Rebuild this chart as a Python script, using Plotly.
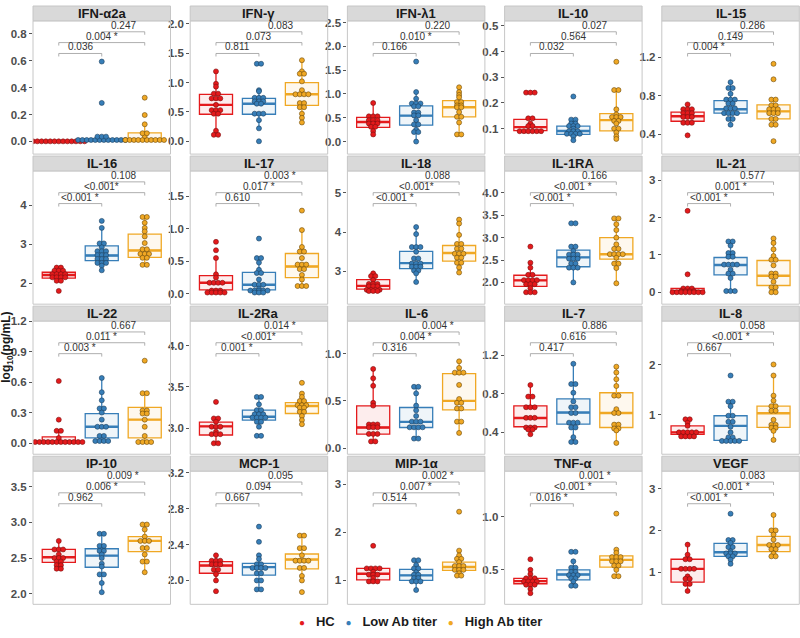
import plotly.graph_objs as go
from collections import Counter

cytokines = ['IFN-α2a', 'IFN-γ', 'IFN-λ1', 'IL-10', 'IL-15',
             'IL-16', 'IL-17', 'IL-18', 'IL-1RA', 'IL-21',
             'IL-22', 'IL-2Ra', 'IL-6', 'IL-7', 'IL-8',
             'IP-10', 'MCP-1', 'MIP-1α', 'TNF-α', 'VEGF']
groups = ['HC', 'Low Ab titer', 'High Ab titer']

# p-values: HC vs Low, HC vs High, Low vs High
pValues = [['0.036', '0.004 *', '0.247'], ['0.811', '0.073', '0.083'], ['0.166', '0.010 *', '0.220'],
           ['0.032', '0.564', '0.027'], ['0.004 *', '0.149', '0.286'],
           ['&lt;0.001 *', '&lt;0.001*', '0.108'], ['0.610', '0.017 *', '0.003 *'], ['&lt;0.001 *', '&lt;0.001*', '0.088'],
           ['&lt;0.001 *', '&lt;0.001 *', '0.166'], ['&lt;0.001 *', '0.001 *', '0.577'],
           ['0.003 *', '0.011 *', '0.667'], ['0.001 *', '&lt;0.001*', '0.014 *'], ['0.316', '0.004 *', '0.004 *'],
           ['0.417', '0.616', '0.886'], ['0.667', '&lt;0.001 *', '0.058'],
           ['0.962', '0.006 *', '0.009 *'], ['0.667', '0.094', '0.095'], ['0.514', '0.007 *', '0.002 *'],
           ['0.016 *', '&lt;0.001 *', '0.001 *'], ['&lt;0.001 *', '&lt;0.001 *', '0.083']]

yRanges = [[-0.095, 0.897], [-0.218, 2.05], [-0.263, 2.535], [0.001, 0.519], [0.196, 1.575],
           [1.459, 4.884], [-0.159, 1.89], [2.165, 5.56], [1.514, 4.49], [-0.32, 3.25],
           [-0.11, 1.2], [2.688, 4.296], [-0.066, 1.348], [0.173, 1.553], [0.215, 2.864],
           [1.85, 3.72], [1.734, 3.219], [0.503, 3.275], [0.175, 1.431], [0.231, 3.42]]

yTicks = [['0.0', '0.2', '0.4', '0.6', '0.8'], ['0.0', '0.5', '1.0', '1.5', '2.0'],
          ['0.0', '0.5', '1.0', '1.5', '2.0', '2.5'], ['0.1', '0.2', '0.3', '0.4', '0.5'], ['0.4', '0.8', '1.2'],
          ['2', '3', '4'], ['0.0', '0.5', '1.0', '1.5'], ['3', '4', '5'],
          ['2.0', '2.5', '3.0', '3.5', '4.0', '4.5'], ['0', '1', '2', '3'],
          ['0.0', '0.3', '0.6', '0.9', '1.2'], ['3.0', '3.5', '4.0'], ['0.0', '0.5', '1.0'], ['0.4', '0.8', '1.2'],
          ['1', '2'], ['2.0', '2.5', '3.0', '3.5'], ['2.0', '2.4', '2.8', '3.2'], ['1', '2', '3'],
          ['0.5', '1.0'], ['1', '2', '3']]

# box quartiles (q1, median, q3) per cytokine
hcQuart = [(0, 0, 0), (0.46, 0.62, 0.80), (0.30, 0.41, 0.51), (0.092, 0.106, 0.136), (0.536, 0.587, 0.631),
           (2.13, 2.21, 2.28), (0.062, 0.17, 0.28), (2.55, 2.63, 2.79), (1.91, 2.045, 2.16), (0.0, 0.03, 0.10),
           (0.0, 0.015, 0.06), (2.92, 3.024, 3.076), (0.148, 0.218, 0.447), (0.458, 0.548, 0.675), (0.61, 0.65, 0.78),
           (2.44, 2.51, 2.62), (2.08, 2.166, 2.21), (1.01, 1.14, 1.25), (0.369, 0.394, 0.42), (0.76, 1.08, 1.31)]
lowQuart = [(0.005, 0.01, 0.015), (0.46, 0.64, 0.73), (0.345, 0.545, 0.75), (0.078, 0.091, 0.11), (0.62, 0.66, 0.75),
            (2.58, 2.71, 2.96), (0.06, 0.14, 0.33), (3.07, 3.21, 3.51), (2.35, 2.56, 2.72), (0.465, 0.73, 0.93),
            (0.05, 0.16, 0.29), (3.10, 3.14, 3.22), (0.218, 0.278, 0.43), (0.485, 0.605, 0.746), (0.49, 0.78, 0.98),
            (2.37, 2.534, 2.63), (2.06, 2.148, 2.19), (1.0, 1.105, 1.23), (0.406, 0.456, 0.50), (1.38, 1.476, 1.69)]
highQuart = [(0.008, 0.012, 0.063), (0.61, 0.80, 1.0), (0.52, 0.72, 0.86), (0.091, 0.133, 0.158), (0.56, 0.638, 0.706),
             (2.66, 2.84, 3.26), (0.25, 0.42, 0.62), (3.26, 3.47, 3.66), (2.52, 2.63, 3.0), (0.18, 0.44, 0.85),
             (0.05, 0.23, 0.35), (3.18, 3.27, 3.31), (0.405, 0.50, 0.79), (0.45, 0.60, 0.81), (0.75, 1.03, 1.17),
             (2.59, 2.74, 2.80), (2.13, 2.233, 2.295), (1.21, 1.28, 1.38), (0.525, 0.594, 0.631), (1.49, 1.65, 1.857)]

hcPoints = [
    [0, 0, 0, 0, 0, 0, 0, 0, 0, 0, 0, 0, 0],
    [1.19, 0.98, 0.93, 0.81, 0.81, 0.73, 0.73, 0.73, 0.62, 0.53, 0.53, 0.53, 0.47, 0.47, 0.18, 0.11, 0.11],
    [0.81, 0.53, 0.53, 0.53, 0.45, 0.45, 0.45, 0.38, 0.38, 0.38, 0.31, 0.31, 0.22, 0.15],
    [0.24, 0.24, 0.24, 0.14, 0.14, 0.12, 0.11, 0.11, 0.09, 0.09, 0.09, 0.09, 0.09, 0.09],
    [0.71, 0.66, 0.66, 0.66, 0.62, 0.62, 0.62, 0.58, 0.58, 0.58, 0.52, 0.52, 0.52, 0.39],
    [2.40, 2.40, 2.32, 2.32, 2.32, 2.23, 2.23, 2.23, 2.23, 2.15, 2.15, 2.15, 2.15, 2.06, 2.06, 1.80],
    [0.80, 0.67, 0.55, 0.30, 0.25, 0.17, 0.17, 0.17, 0.17, 0.05, 0.05, 0.05, 0.02, 0.02, 0.02, 0.02, 0.02],
    [2.95, 2.88, 2.88, 2.78, 2.68, 2.68, 2.68, 2.62, 2.62, 2.62, 2.53, 2.53, 2.53, 2.53, 2.50, 2.50, 2.50],
    [2.80, 2.44, 2.33, 2.17, 2.17, 2.05, 2.05, 2.05, 2.05, 1.96, 1.96, 1.96, 1.87, 1.78, 1.78, 1.78],
    [2.18, 0.48, 0.10, 0.10, 0.10, 0.03, 0.03, 0.03, 0.03, 0, 0, 0, 0, 0, 0, 0, 0],
    [0.61, 0.23, 0.12, 0.12, 0.05, 0.01, 0.01, 0.01, 0.01, 0.01, 0.01, 0.01, 0.01, 0.01, 0.01, 0.01, 0.01],
    [3.32, 3.12, 3.12, 3.08, 3.02, 3.02, 3.02, 2.96, 2.93, 2.93, 2.93, 2.82, 2.82],
    [0.84, 0.74, 0.66, 0.48, 0.45, 0.25, 0.25, 0.25, 0.22, 0.22, 0.22, 0.15, 0.15, 0.15, 0.07, 0.07],
    [0.89, 0.77, 0.77, 0.66, 0.66, 0.66, 0.55, 0.55, 0.55, 0.45, 0.45, 0.45, 0.43, 0.43, 0.38],
    [0.91, 0.91, 0.84, 0.78, 0.65, 0.65, 0.65, 0.65, 0.65, 0.57, 0.57, 0.57, 0.57],
    [2.74, 2.62, 2.62, 2.62, 2.55, 2.50, 2.50, 2.50, 2.45, 2.45, 2.40, 2.40, 2.35, 2.35],
    [2.28, 2.22, 2.22, 2.22, 2.18, 2.18, 2.18, 2.12, 2.12, 2.07, 2.00, 1.88],
    [1.72, 1.25, 1.25, 1.25, 1.25, 1.18, 1.12, 1.12, 1.12, 1.05, 0.98, 0.98, 0.98],
    [0.60, 0.50, 0.46, 0.42, 0.42, 0.42, 0.39, 0.39, 0.39, 0.39, 0.36, 0.36, 0.36, 0.32, 0.28],
    [1.66, 1.42, 1.31, 1.31, 1.08, 1.08, 1.08, 1.08, 0.90, 0.84, 0.84, 0.72, 0.72, 0.55]]

lowPoints = [
    [0.01, 0.01, 0.01, 0.01, 0.01, 0.01, 0.01, 0.01, 0.01, 0.01, 0.01, 0.01, 0.035, 0.035, 0.035, 0.286, 0.594],
    [1.32, 1.32, 0.87, 0.85, 0.74, 0.74, 0.74, 0.68, 0.68, 0.68, 0.64, 0.64, 0.47, 0.47, 0.47, 0.36, 0.22, 0.0],
    [1.68, 1.04, 0.90, 0.80, 0.80, 0.80, 0.74, 0.74, 0.61, 0.61, 0.55, 0.55, 0.45, 0.36, 0.36, 0.25, 0.20, 0.20, 0.0],
    [0.225, 0.135, 0.135, 0.12, 0.12, 0.11, 0.11, 0.11, 0.10, 0.09, 0.09, 0.09, 0.08, 0.08, 0.08, 0.08, 0.07, 0.055],
    [0.94, 0.88, 0.88, 0.82, 0.76, 0.76, 0.76, 0.72, 0.72, 0.67, 0.67, 0.67, 0.62, 0.62, 0.62, 0.62, 0.56, 0.56, 0.50],
    [3.60, 3.42, 3.02, 3.02, 2.92, 2.82, 2.82, 2.82, 2.72, 2.72, 2.72, 2.62, 2.62, 2.62, 2.52, 2.52, 2.52, 2.45, 2.33],
    [0.85, 0.55, 0.55, 0.48, 0.37, 0.32, 0.32, 0.22, 0.14, 0.14, 0.14, 0.08, 0.05, 0.05, 0.05, 0.05, 0.05, 0.02, 0.02, 0.02],
    [4.13, 3.95, 3.62, 3.62, 3.62, 3.50, 3.33, 3.33, 3.20, 3.20, 3.20, 3.12, 3.12, 3.12, 3.02, 3.02, 2.95, 2.73],
    [3.32, 3.32, 2.80, 2.80, 2.70, 2.62, 2.62, 2.62, 2.53, 2.53, 2.53, 2.42, 2.42, 2.33, 2.33, 2.33, 2.0],
    [1.36, 1.36, 1.25, 1.05, 1.05, 0.95, 0.95, 0.74, 0.74, 0.74, 0.74, 0.60, 0.50, 0.50, 0.38, 0.03, 0.03, 0.03],
    [0.64, 0.50, 0.42, 0.34, 0.34, 0.30, 0.23, 0.16, 0.16, 0.16, 0.07, 0.07, 0.02, 0.02, 0.02, 0.02],
    [3.38, 3.38, 3.29, 3.22, 3.22, 3.17, 3.17, 3.17, 3.13, 3.13, 3.13, 3.13, 3.08, 3.08, 3.02, 2.91, 2.91],
    [0.65, 0.65, 0.58, 0.45, 0.40, 0.34, 0.28, 0.28, 0.28, 0.22, 0.22, 0.22, 0.22, 0.10, 0.10],
    [1.11, 0.90, 0.90, 0.81, 0.72, 0.66, 0.66, 0.60, 0.60, 0.50, 0.50, 0.50, 0.45, 0.45, 0.35, 0.30, 0.30],
    [1.78, 1.26, 1.26, 1.17, 0.98, 0.98, 0.86, 0.86, 0.76, 0.65, 0.55, 0.55, 0.48, 0.48, 0.48, 0.48, 0.48],
    [2.84, 2.84, 2.67, 2.67, 2.60, 2.60, 2.55, 2.50, 2.42, 2.38, 2.27, 2.27, 2.15, 2.02],
    [2.60, 2.43, 2.28, 2.24, 2.18, 2.18, 2.14, 2.14, 2.14, 2.14, 2.08, 2.08, 2.00, 2.00, 1.90, 1.90],
    [1.42, 1.42, 1.32, 1.25, 1.25, 1.17, 1.12, 1.12, 1.05, 1.05, 0.98, 0.98, 0.98, 0.80],
    [0.67, 0.67, 0.58, 0.52, 0.52, 0.48, 0.48, 0.45, 0.45, 0.45, 0.42, 0.42, 0.39, 0.35, 0.35],
    [2.40, 1.77, 1.77, 1.70, 1.60, 1.60, 1.50, 1.45, 1.45, 1.45, 1.38, 1.38, 1.30, 1.20]]

highPoints = [
    [0.01, 0.01, 0.01, 0.01, 0.01, 0.01, 0.01, 0.01, 0.01, 0.01, 0.04, 0.06, 0.06, 0.127, 0.196, 0.325],
    [1.38, 1.19, 1.15, 1.15, 1.02, 0.87, 0.80, 0.80, 0.80, 0.80, 0.65, 0.65, 0.58, 0.58, 0.47, 0.40, 0.32],
    [1.14, 1.04, 0.98, 0.93, 0.83, 0.83, 0.76, 0.76, 0.72, 0.72, 0.62, 0.52, 0.52, 0.40, 0.15, 0.15],
    [0.36, 0.25, 0.25, 0.175, 0.155, 0.145, 0.145, 0.145, 0.13, 0.13, 0.12, 0.10, 0.10, 0.085, 0.07, 0.06],
    [1.13, 0.97, 0.76, 0.76, 0.70, 0.70, 0.66, 0.66, 0.66, 0.62, 0.62, 0.62, 0.56, 0.56, 0.50, 0.50, 0.33],
    [3.70, 3.70, 3.55, 3.42, 3.33, 3.20, 3.03, 2.87, 2.87, 2.75, 2.75, 2.75, 2.65, 2.65, 2.47, 2.47],
    [1.28, 0.98, 0.72, 0.65, 0.65, 0.55, 0.45, 0.45, 0.45, 0.38, 0.38, 0.29, 0.22, 0.12, 0.12, 0.12],
    [4.32, 4.22, 3.93, 3.70, 3.70, 3.58, 3.58, 3.45, 3.45, 3.45, 3.35, 3.35, 3.22, 3.22, 3.10, 2.97],
    [3.43, 3.43, 3.30, 3.17, 3.0, 2.85, 2.75, 2.75, 2.63, 2.63, 2.63, 2.63, 2.55, 2.42, 2.42, 2.32, 1.98],
    [1.44, 1.32, 1.15, 0.97, 0.87, 0.87, 0.72, 0.50, 0.50, 0.42, 0.42, 0.28, 0.13, 0.13, 0.0, 0.0],
    [0.81, 0.49, 0.49, 0.32, 0.32, 0.29, 0.29, 0.23, 0.16, 0.07, 0.01, 0.01, 0.01, 0.01],
    [3.55, 3.42, 3.38, 3.33, 3.33, 3.28, 3.28, 3.28, 3.25, 3.25, 3.20, 3.20, 3.15, 3.10, 3.05],
    [0.92, 0.85, 0.80, 0.80, 0.80, 0.67, 0.52, 0.48, 0.48, 0.42, 0.42, 0.28, 0.28, 0.16],
    [1.08, 1.02, 0.95, 0.88, 0.78, 0.78, 0.64, 0.60, 0.60, 0.48, 0.48, 0.44, 0.44, 0.42, 0.29],
    [2.0, 1.78, 1.38, 1.28, 1.17, 1.17, 1.08, 1.08, 0.90, 0.80, 0.80, 0.74, 0.74, 0.68, 0.50],
    [2.97, 2.97, 2.90, 2.80, 2.74, 2.74, 2.74, 2.64, 2.64, 2.55, 2.45, 2.45, 2.30],
    [2.50, 2.50, 2.36, 2.36, 2.28, 2.22, 2.22, 2.22, 2.22, 2.14, 2.14, 2.05, 2.00, 1.87],
    [2.43, 1.62, 1.52, 1.45, 1.45, 1.38, 1.30, 1.30, 1.30, 1.22, 1.22, 1.22, 1.15, 1.10, 1.10],
    [1.03, 0.69, 0.66, 0.62, 0.62, 0.62, 0.58, 0.58, 0.58, 0.54, 0.54, 0.50, 0.44, 0.44],
    [2.37, 2.0, 2.0, 1.90, 1.78, 1.65, 1.65, 1.65, 1.55, 1.55, 1.45, 1.38, 1.38]]

colors = ['#E41A1C', '#377EB8', '#F0A824']
fills = ['rgba(228,26,28,0.08)', 'rgba(55,126,184,0.08)', 'rgba(240,168,36,0.08)']
outlines = ['#7a1010', '#1d3f5e', '#6b4a0c']

W, H = 800, 638
colLeft = [33, 190.2, 347.4, 504.6, 661.8]
panelW = 137.5
rowTop = [15, 166.5, 318, 469.5]
panelH = 134.5
stripH = 15
boxW = 0.77
dotDx = 0.1
bracketFrac = [0.755, 0.837, 0.918]
bracketPairs = [(1, 2), (1, 3), (2, 3)]

fig = go.Figure()
shapes = []
annotations = []
layout = {}

for i, name in enumerate(cytokines):
    k = i + 1
    xa, ya = 'x%d' % k, 'y%d' % k
    row, col = i // 5, i % 5
    x0, x1 = colLeft[col] / W, (colLeft[col] + panelW) / W
    top = rowTop[row]
    y0, y1 = 1 - (top + panelH) / H, 1 - top / H
    lo, hi = yRanges[i]

    layout['xaxis%d' % k] = dict(domain=[x0, x1], range=[0.4, 3.6], anchor=ya, showticklabels=False,
                                 ticks='', showgrid=False, zeroline=False, showline=False)
    layout['yaxis%d' % k] = dict(domain=[y0, y1], range=[lo, hi], anchor=xa, showgrid=False, zeroline=False,
                                 showline=False, tickvals=[float(t) for t in yTicks[i]], ticktext=yTicks[i],
                                 ticks='outside', ticklen=3, tickcolor='#555555', tickwidth=1,
                                 tickfont=dict(size=11.5, color='#4D4D4D', family='Liberation Sans', weight='bold'))

    quarts = [hcQuart[i], lowQuart[i], highQuart[i]]
    pts = [hcPoints[i], lowPoints[i], highPoints[i]]
    for g in range(3):
        q1, med, q3 = quarts[g]
        iqr = q3 - q1
        vals = pts[g]
        lf = min([v for v in vals if v >= q1 - 1.5 * iqr] + [q1])
        uf = max([v for v in vals if v <= q3 + 1.5 * iqr] + [q3])
        pos = g + 1
        fig.add_trace(go.Box(x=[pos], q1=[q1], median=[med], q3=[q3], lowerfence=[lf], upperfence=[uf],
                             orientation='v', width=boxW, whiskerwidth=0, boxpoints=False,
                             line=dict(color=colors[g], width=1.3), fillcolor=fills[g],
                             showlegend=False, hoverinfo='skip', xaxis=xa, yaxis=ya))
        fig.add_trace(go.Scatter(x=[pos - boxW / 2, pos + boxW / 2], y=[med, med], mode='lines',
                                 line=dict(color=colors[g], width=2.4), showlegend=False,
                                 hoverinfo='skip', xaxis=xa, yaxis=ya))
        # dotplot-style stacking of equal values
        counts = Counter(vals)
        seen = Counter()
        xs = []
        for v in vals:
            n = counts[v]
            xs.append(pos + (seen[v] - (n - 1) / 2) * dotDx)
            seen[v] += 1
        fig.add_trace(go.Scatter(x=xs, y=vals, mode='markers', name=groups[g], showlegend=False,
                                 marker=dict(size=5, color=colors[g], line=dict(color=outlines[g], width=0.6)),
                                 xaxis=xa, yaxis=ya))

    # significance brackets
    tip = 3.0 / panelH * (hi - lo)
    for b in range(3):
        a, c = bracketPairs[b]
        yb = lo + bracketFrac[b] * (hi - lo)
        fig.add_trace(go.Scatter(x=[a, a, c, c], y=[yb - tip, yb, yb, yb - tip], mode='lines',
                                 line=dict(color='#9A9A9A', width=0.8), showlegend=False,
                                 hoverinfo='skip', xaxis=xa, yaxis=ya))
        annotations.append(dict(x=(a + c) / 2, y=yb, xref=xa, yref=ya, text=pValues[i][b], showarrow=False,
                                yanchor='bottom', yshift=-1, font=dict(size=10, color='#333333')))

    # panel border and strip
    shapes.append(dict(type='rect', xref='paper', yref='paper', x0=x0, x1=x1, y0=y0, y1=y1,
                       line=dict(color='#C6C6C6', width=1), fillcolor='rgba(0,0,0,0)', layer='above'))
    shapes.append(dict(type='rect', xref='paper', yref='paper', x0=x0, x1=x1, y0=y1, y1=y1 + stripH / H,
                       line=dict(color='#C6C6C6', width=1), fillcolor='#D9D9D9'))
    annotations.append(dict(x=(x0 + x1) / 2, y=y1 + stripH / 2 / H, xref='paper', yref='paper', text=name,
                            showarrow=False, xanchor='center', yanchor='middle',
                            font=dict(size=13, color='#1A1A1A', family='Liberation Sans', weight='bold')))

annotations.append(dict(x=7 / W, y=1 - 345 / H, xref='paper', yref='paper', text='log<sub>10</sub>(pg/mL)',
                        textangle=-90, showarrow=False, xanchor='center', yanchor='middle',
                        font=dict(size=12, color='#1A1A1A', family='Liberation Sans', weight='bold')))

# compact legend row, like the ggplot one
legendParts = []
for g in range(3):
    legendParts.append("<span style='color:%s;font-size:10px'>●</span>&nbsp;&nbsp;&nbsp;%s" % (colors[g], groups[g]))
annotations.append(dict(x=420 / W, y=1 - 621 / H, xref='paper', yref='paper',
                        text='&nbsp;&nbsp;&nbsp;'.join(legendParts), showarrow=False,
                        xanchor='center', yanchor='middle',
                        font=dict(size=13, color='#1A1A1A', family='Liberation Sans', weight='bold')))

fig.update_layout(width=W, height=H, margin=dict(l=0, r=0, t=0, b=0), plot_bgcolor='white',
                  paper_bgcolor='white', shapes=shapes, annotations=annotations,
                  font=dict(family='Liberation Sans'), showlegend=False,
                  **layout)

fig.write_html("out.html", config={'displayModeBar': False},
               post_script="document.body.style.margin='0';")
